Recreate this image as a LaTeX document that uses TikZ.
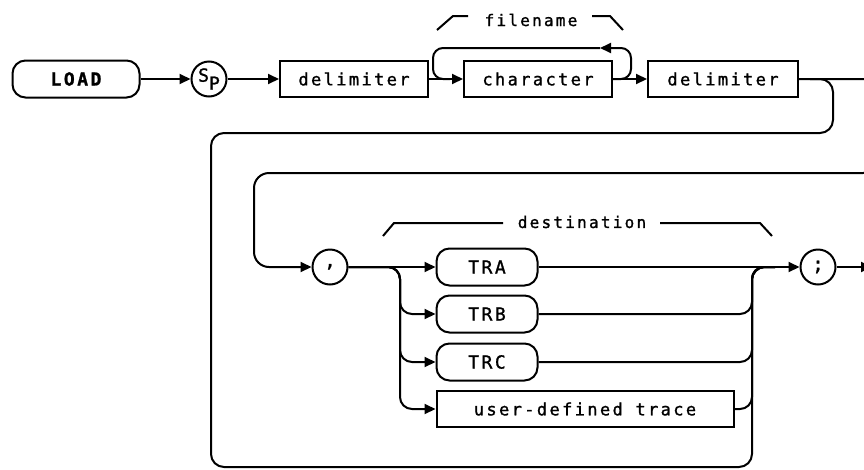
\documentclass[tikz,border=0pt]{standalone}
\usepackage{fontspec}
\usepackage{tikz}
\usetikzlibrary{arrows.meta, positioning}
\newfontfamily\plotfont[LetterSpace=14, FakeBold=1.2]{DejaVu Sans Mono}
\newfontfamily\plotsolo[FakeBold=1.2]{DejaVu Sans Mono}

\tikzset{
  rail/.style={line width=2pt},
  arr/.style={rail, -{Triangle[length=11pt,width=10pt]}},
  kw/.style={draw, line width=2pt, rounded corners=13pt, minimum width=101pt, minimum height=37pt, inner sep=0pt, font=\plotfont\fontsize{18}{18}\selectfont},
  term/.style={draw, line width=2pt, minimum height=36pt, inner sep=0pt, font=\plotfont\fontsize{17}{17}\selectfont},
  circ/.style={draw, circle, line width=2pt, minimum size=35pt, inner sep=0pt, font=\plotsolo\fontsize{19}{19}\selectfont},
  lbl/.style={font=\plotfont\fontsize{16}{16}\selectfont},
}

\begin{document}
\begin{tikzpicture}[x=1pt, y=-1pt]
  \useasboundingbox (0,0) rectangle (864,469);
  \clip (0,0) rectangle (864,469);

  % top row
  \node[kw, minimum width=127pt, font=\plotfont\bfseries\fontsize{18}{18}\selectfont] (load) at (76,79) {LOAD};
  \node[circ, font=\plotsolo\fontsize{18}{18}\selectfont] (sp) at (209,79) {\raisebox{3pt}{S}\raisebox{-5pt}{P}};
  \node[term, minimum width=148pt] (delimA) at (354,79) {delimiter};
  \node[term, minimum width=148pt] (chr) at (538,79) {character};
  \node[term, minimum width=150pt] (delimB) at (723,79) {delimiter};

  \node[lbl] (fname) at (531,20) {filename};
  \draw[rail] (437,30) -- (453,16) -- (468,16);
  \draw[rail] (592,16) -- (610,16) -- (623,30);

  \draw[arr] (load) -- (sp);
  \draw[arr] (sp) -- (delimA);
  \draw[arr] (delimA) -- (chr);
  \draw[arr] (chr) -- (delimB);
  \draw[arr, rounded corners=10pt] (chr.east) -- (631,79) -- (631,48) -- (600,48);
  \draw[rail, rounded corners=10pt] (600,48) -- (433,48) -- (433,79) -- (450,79);

  % destination part
  \node[circ] (comma) at (330,267) {\raisebox{3pt}{,}};
  \node[kw] (tra) at (487,267) {TRA};
  \node[kw] (trb) at (487,314) {TRB};
  \node[kw] (trc) at (487,362) {TRC};
  \node[term, minimum width=297pt] (udt) at (585,409) {user-defined trace};
  \node[circ] (semi) at (818,267) {;};

  \node[lbl] (dest) at (582,222) {destination};
  \draw[rail] (383,236) -- (394,223) -- (503,223);
  \draw[rail] (660,223) -- (760,223) -- (772,236);

  \draw[arr, rounded corners=15pt] (delimB.east) -- (878,79) -- (878,173) -- (254,173) -- (254,267) -- (comma.west);
  \draw[rail, rounded corners=13pt] (810,79) -- (833,79) -- (833,133) -- (211,133) -- (211,467) -- (752,467) -- (752,267) -- (775,267);

  \draw[arr] (comma) -- (tra);
  \draw[arr, rounded corners=12pt] (comma.east) -- (400,267) -- (400,314) -- (trb.west);
  \draw[arr, rounded corners=12pt] (comma.east) -- (400,267) -- (400,362) -- (trc.west);
  \draw[arr, rounded corners=12pt] (comma.east) -- (400,267) -- (400,409) -- (udt.west);

  \draw[arr] (tra) -- (semi);
  \draw[rail, rounded corners=12pt] (trb.east) -- (752,314) -- (752,267) -- (775,267);
  \draw[rail, rounded corners=12pt] (trc.east) -- (752,362) -- (752,267) -- (775,267);
  \draw[rail, rounded corners=12pt] (udt.east) -- (752,409) -- (752,267) -- (775,267);
  \draw[arr] (semi.east) -- (872,267);
\end{tikzpicture}
\end{document}
